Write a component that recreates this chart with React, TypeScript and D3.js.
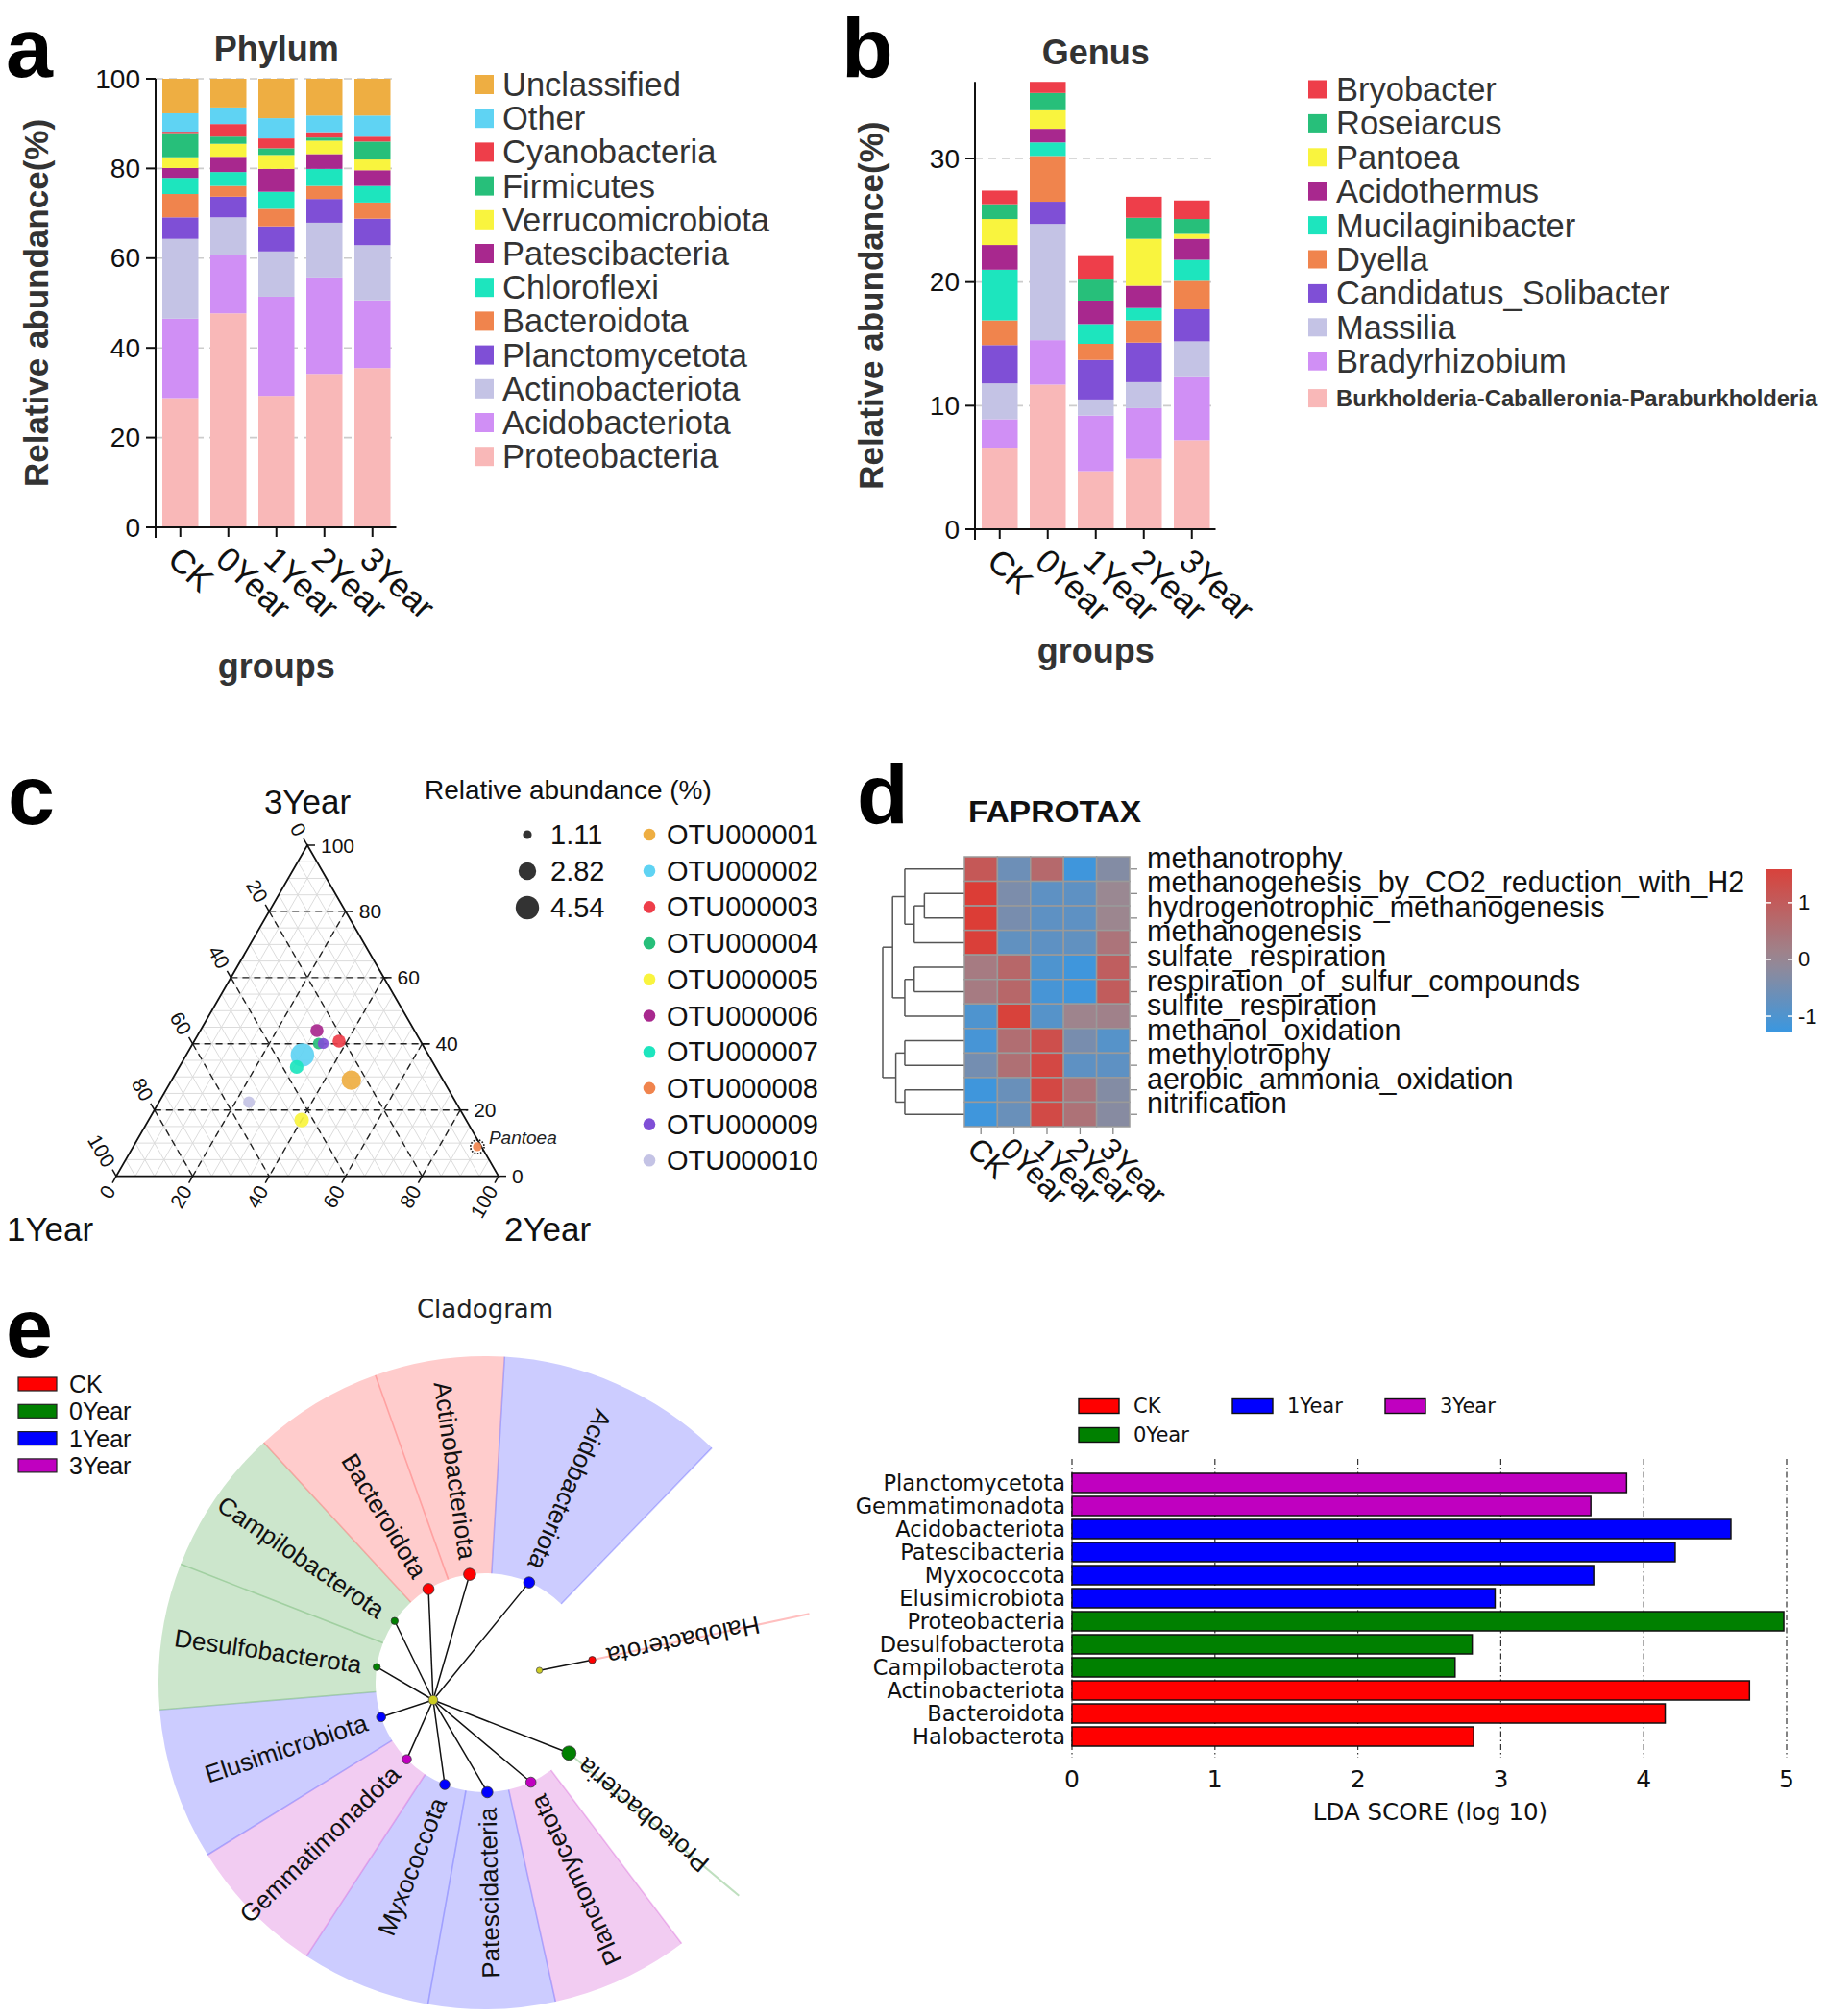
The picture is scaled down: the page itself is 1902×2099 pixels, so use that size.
import React from "react";
import * as d3 from "d3";

const SANS = "'Liberation Sans', Arial, Helvetica, sans-serif";
const DEJAVU = "'DejaVu Sans', Verdana, sans-serif";

const groups = ["CK", "0Year", "1Year", "2Year", "3Year"];

// ---------- panel a : phylum (bottom -> top) ----------
const phylumNames = ["Proteobacteria", "Acidobacteriota", "Actinobacteriota", "Planctomycetota", "Bacteroidota", "Chloroflexi", "Patescibacteria", "Verrucomicrobiota", "Firmicutes", "Cyanobacteria", "Other", "Unclassified"];
const palette = ["#F9B8B8", "#D08FF5", "#C4C3E5", "#7F4FD6", "#F0844D", "#1DE5BE", "#A8288E", "#F9F43E", "#27BF7A", "#EE3E4A", "#5FD3F3", "#EEAE42"];
const phylumCK = [28.8, 17.7, 17.8, 4.8, 5.2, 3.6, 2.2, 2.4, 5.4, 0.3, 4.1, 7.7];
const phylum0Y = [47.7, 13.1, 8.3, 4.6, 2.4, 3.1, 3.4, 2.9, 1.6, 2.8, 3.7, 6.4];
const phylum1Y = [29.3, 22.1, 10.1, 5.6, 3.9, 3.8, 5.1, 3.1, 1.5, 2.2, 4.5, 8.8];
const phylum2Y = [34.2, 21.5, 12.2, 5.3, 2.9, 3.8, 3.3, 3.0, 0.7, 1.2, 3.7, 8.2];
const phylum3Y = [35.5, 15.1, 12.3, 5.9, 3.6, 3.7, 3.5, 2.4, 4.0, 1.1, 4.7, 8.2];
const phylumTicks = [0, 20, 40, 60, 80, 100];

// ---------- panel b : genus (bottom -> top) ----------
const genusNames = ["Burkholderia-Caballeronia-Paraburkholderia", "Bradyrhizobium", "Massilia", "Candidatus_Solibacter", "Dyella", "Mucilaginibacter", "Acidothermus", "Pantoea", "Roseiarcus", "Bryobacter"];
const genusCK = [6.6, 2.3, 2.9, 3.1, 2.0, 4.1, 2.0, 2.1, 1.2, 1.1];
const genus0Y = [11.7, 3.6, 9.4, 1.8, 3.7, 1.1, 1.1, 1.5, 1.4, 0.9];
const genus1Y = [4.7, 4.5, 1.3, 3.2, 1.3, 1.6, 1.9, 0.0, 1.7, 1.9];
const genus2Y = [5.7, 4.1, 2.1, 3.2, 1.8, 1.0, 1.8, 3.8, 1.7, 1.7];
const genus3Y = [7.2, 5.1, 2.9, 2.6, 2.3, 1.7, 1.7, 0.4, 1.2, 1.5];
const genusTicks = [0, 10, 20, 30];

// ---------- panel c : ternary ----------
const otuNames = ["OTU000001", "OTU000002", "OTU000003", "OTU000004", "OTU000005", "OTU000006", "OTU000007", "OTU000008", "OTU000009", "OTU000010"];
const otuColors = ["#EEAE42", "#5FD3F3", "#EE3E4A", "#27BF7A", "#F9F43E", "#A8288E", "#1DE5BE", "#F0844D", "#7F4FD6", "#C4C3E5"];
const otu1Year = [0.24, 0.33, 0.213, 0.27, 0.43, 0.255, 0.363, 0.011, 0.258, 0.541];
const otu2Year = [0.47, 0.304, 0.379, 0.329, 0.40, 0.305, 0.307, 0.90, 0.341, 0.235];
const otu3Year = [0.29, 0.366, 0.408, 0.401, 0.17, 0.44, 0.33, 0.089, 0.401, 0.224];
const otuAbund = [3.3, 4.54, 1.8, 1.5, 2.1, 1.8, 1.9, 1.11, 1.4, 1.5];
const sizeBreaks = [1.11, 2.82, 4.54];
const ternTicks = [0, 20, 40, 60, 80, 100];

// ---------- panel d : FAPROTAX heatmap ----------
const funcNames = ["methanotrophy", "methanogenesis_by_CO2_reduction_with_H2", "hydrogenotrophic_methanogenesis", "methanogenesis", "sulfate_respiration", "respiration_of_sulfur_compounds", "sulfite_respiration", "methanol_oxidation", "methylotrophy", "aerobic_ammonia_oxidation", "nitrification"];
const heatCK = [1.1, 1.7, 1.7, 1.65, 0.3, 0.3, -1.0, -1.1, -0.5, -1.2, -1.2];
const heat0Y = [-0.6, -0.4, -0.45, -0.75, 0.75, 0.75, 1.6, 0.6, 0.55, -0.65, -0.65];
const heat1Y = [0.7, -0.8, -0.8, -0.8, -1.0, -1.1, -0.9, 1.3, 1.45, 1.45, 1.4];
const heat2Y = [-1.2, -0.8, -0.8, -0.75, -1.2, -1.2, 0.1, -0.45, -0.8, 0.45, 0.5];
const heat3Y = [-0.3, 0.0, 0.05, 0.45, 0.95, 1.0, 0.15, -0.9, -0.8, -0.3, -0.25];
const heatTicks = [1, 0, -1];
// hclust-style merges: negative = leaf (row number), positive = earlier merge; third = height
const dendroMerges: [number, number, number][] = [
  [-2, -3, 0.49], [-4, 1, 0.615], [-1, 2, 0.73], [-5, -6, 0.615], [4, -7, 0.73],
  [3, 5, 0.88], [-8, -9, 0.73], [-10, -11, 0.73], [7, 8, 0.84], [6, 9, 1.0],
];

// ---------- panel e : cladogram + LDA ----------
const classNames = ["CK", "0Year", "1Year", "3Year"];
const classColors = ["#FF0000", "#008000", "#0000FF", "#C000C0"];
const cladeNames = ["Planctomycetota", "Patescidacteria", "Myxococcota", "Gemmatimonadota", "Elusimicrobiota", "Desulfobacterota", "Campilobacterota", "Bacteroidota", "Actinobacteriota", "Acidobacteriota"];
const cladeClass = ["3Year", "1Year", "1Year", "3Year", "1Year", "0Year", "0Year", "CK", "CK", "1Year"];
const cladeSpan = [24.5, 22.5, 23, 25, 27, 26, 26, 23, 23, 40.5];
const cladeNode = [5.3, 5.8, 5.3, 4.8, 4.8, 3.7, 3.7, 5.8, 6.3, 5.8];
const extraNames = ["Proteobacteria", "Halobacterota"];
const extraClass = ["0Year", "CK"];
const extraAngle = [40, -12];
const extraNode = [7.4, 3.7];

const ldaNames = ["Planctomycetota", "Gemmatimonadota", "Acidobacteriota", "Patescibacteria", "Myxococcota", "Elusimicrobiota", "Proteobacteria", "Desulfobacterota", "Campilobacterota", "Actinobacteriota", "Bacteroidota", "Halobacterota"];
const ldaClass = ["3Year", "3Year", "1Year", "1Year", "1Year", "1Year", "0Year", "0Year", "0Year", "CK", "CK", "CK"];
const ldaScore = [3.88, 3.63, 4.61, 4.22, 3.65, 2.96, 4.98, 2.80, 2.68, 4.74, 4.15, 2.81];
const ldaTicks = [0, 1, 2, 3, 4, 5];

const colorOf = (c: string) => classColors[classNames.indexOf(c)];

function stackRows(names: string[], values: number[][]) {
  return groups.map((g, gi) => {
    const row: any = { group: g };
    names.forEach((n, ni) => (row[n] = values[gi][ni]));
    return row;
  });
}

function BarPanel(p: any) {
  const { names, colors, values, xRange, y, ticks, grid, yTop, title, titleY, ylabX, groupsY } = p;
  const x = d3.scaleBand<string>().domain(groups).range(xRange).paddingInner(0.25).paddingOuter(0.12);
  const stacked = d3.stack<any>().keys(names)(stackRows(names, values));
  const axisX = xRange[0] - 1;
  const y0 = y(0);
  const midX = (xRange[0] + xRange[1]) / 2;
  return (
    <g fontFamily={SANS}>
      {grid.map((t: number) => (
        <line key={"g" + t} x1={axisX} x2={xRange[1]} y1={y(t)} y2={y(t)} stroke="#cccccc" strokeWidth={1.6} strokeDasharray="8 6" />
      ))}
      {stacked.map((layer: any, li: number) => (
        <g key={names[li]} fill={colors[li]}>
          {layer.map((d: any, gi: number) => (
            <rect key={gi} x={x(groups[gi])} width={x.bandwidth()} y={y(d[1])} height={Math.max(0, y(d[0]) - y(d[1]))} />
          ))}
        </g>
      ))}
      <line x1={axisX} x2={axisX} y1={y(yTop)} y2={y0 + 11} stroke="#111" strokeWidth={2} />
      <line x1={axisX - 10} x2={xRange[1]} y1={y0} y2={y0} stroke="#111" strokeWidth={2} />
      {ticks.map((t: number) => (
        <g key={"t" + t}>
          <line x1={axisX - 10} x2={axisX} y1={y(t)} y2={y(t)} stroke="#111" strokeWidth={2} />
          <text x={axisX - 16} y={y(t)} textAnchor="end" dominantBaseline="central" fontSize={28} fill="#111">{t}</text>
        </g>
      ))}
      {groups.map((g) => {
        const cx = (x(g) as number) + x.bandwidth() / 2;
        return (
          <g key={g}>
            <line x1={cx} x2={cx} y1={y0} y2={y0 + 10} stroke="#111" strokeWidth={2} />
            <text transform={`translate(${cx - 15},${y0 + 36}) rotate(43)`} fontSize={35} fill="#111">{g}</text>
          </g>
        );
      })}
      <text x={midX} y={titleY} textAnchor="middle" dominantBaseline="central" fontSize={36} fontWeight="bold" fill="#333">{title}</text>
      <text transform={`translate(${ylabX},${(y0 + y(yTop)) / 2}) rotate(-90)`} textAnchor="middle" dominantBaseline="central" fontSize={35} fontWeight="bold" fill="#333">Relative abundance(%)</text>
      <text x={midX} y={groupsY} textAnchor="middle" dominantBaseline="central" fontSize={36} fontWeight="bold" fill="#333">groups</text>
    </g>
  );
}

function PanelA() {
  const y = d3.scaleLinear().domain([0, 100]).range([549, 82]);
  const legendNames = [...phylumNames].reverse();
  const legendColors = [...palette].reverse();
  return (
    <g>
      <BarPanel names={phylumNames} colors={palette} values={[phylumCK, phylum0Y, phylum1Y, phylum2Y, phylum3Y]}
        xRange={[163, 412.5]} y={y} ticks={phylumTicks} grid={[20, 40, 60, 80, 100]} yTop={100}
        title="Phylum" titleY={50} ylabX={37} groupsY={693} />
      <g fontFamily={SANS}>
        {legendNames.map((n, i) => (
          <g key={n}>
            <rect x={494} y={88 + i * 35.2 - 10} width={20} height={20} fill={legendColors[i]} />
            <text x={523} y={88 + i * 35.2} dominantBaseline="central" fontSize={34.5} fill="#333">{n}</text>
          </g>
        ))}
      </g>
    </g>
  );
}

function PanelB() {
  const y = d3.scaleLinear().domain([0, 30]).range([551, 165]);
  const legendNames = [...genusNames].reverse();
  const legendColors = palette.slice(0, 10).reverse();
  return (
    <g>
      <BarPanel names={genusNames} colors={palette.slice(0, 10)} values={[genusCK, genus0Y, genus1Y, genus2Y, genus3Y]}
        xRange={[1016, 1265.5]} y={y} ticks={genusTicks} grid={[10, 20, 30]} yTop={36.2}
        title="Genus" titleY={54} ylabX={906} groupsY={677} />
      <g fontFamily={SANS}>
        {legendNames.map((n, i) => {
          const last = i === legendNames.length - 1;
          const cy = 93 + i * 35.4 + (last ? 3 : 0);
          return (
            <g key={n}>
              <rect x={1362} y={cy - 9.5} width={19} height={19} fill={legendColors[i]} />
              <text x={1391} y={cy} dominantBaseline="central" fontSize={last ? 23.8 : 34.5} fontWeight={last ? "bold" : "normal"} fill="#333">{n}</text>
            </g>
          );
        })}
      </g>
    </g>
  );
}

function PanelC() {
  const tx = d3.scaleLinear().domain([0, 1]).range([121, 519]);
  const ty = d3.scaleLinear().domain([0, 1]).range([1224.6, 880]);
  const tern = (a: number, b: number, t: number): [number, number] => [tx(b + t / 2), ty(t)];
  const area = d3.scaleLinear().domain([1.11, 4.54]).range([4.6 * 4.6, 12.2 * 12.2]);
  const rad = (v: number) => Math.sqrt(area(v));
  const minor = d3.range(0.05, 1, 0.05);
  const major = [0.2, 0.4, 0.6, 0.8];
  const lineFam = (v: number) => [
    [tern(1 - v, 0, v), tern(0, 1 - v, v)],
    [tern(v, 0, 1 - v), tern(v, 1 - v, 0)],
    [tern(0, v, 1 - v), tern(1 - v, v, 0)],
  ];
  const L = tern(1, 0, 0), R = tern(0, 1, 0), T = tern(0, 0, 1);
  const dirL: [number, number] = [-0.5, -0.866];
  const dirB: [number, number] = [-0.5, 0.866];
  return (
    <g fontFamily={SANS}>
      {minor.map((v, i) => lineFam(v).map((s, j) => (
        <line key={`m${i}-${j}`} x1={s[0][0]} y1={s[0][1]} x2={s[1][0]} y2={s[1][1]} stroke="#dcdcdc" strokeWidth={1} />
      )))}
      {major.map((v, i) => lineFam(v).map((s, j) => (
        <line key={`M${i}-${j}`} x1={s[0][0]} y1={s[0][1]} x2={s[1][0] + (j === 0 ? 8 : 0)} y2={s[1][1]} stroke="#222" strokeWidth={1.4} strokeDasharray="7 5" />
      )))}
      <path d={`M${L[0]},${L[1]}L${R[0]},${R[1]}L${T[0]},${T[1]}Z`} fill="none" stroke="#111" strokeWidth={1.8} />
      {ternTicks.map((t) => {
        const v = t / 100;
        const eR = tern(0, 1 - v, v);
        const eL = tern(v, 0, 1 - v);
        const eB = tern(1 - v, v, 0);
        return (
          <g key={"tt" + t} fontSize={21} fill="#111">
            <line x1={eR[0]} y1={eR[1]} x2={eR[0] + 8} y2={eR[1]} stroke="#111" strokeWidth={1.5} />
            <text x={eR[0] + 14} y={eR[1]} dominantBaseline="central">{t}</text>
            <line x1={eL[0]} y1={eL[1]} x2={eL[0] + 8 * dirL[0]} y2={eL[1] + 8 * dirL[1]} stroke="#111" strokeWidth={1.5} />
            <text transform={`translate(${eL[0] + 13 * dirL[0]},${eL[1] + 13 * dirL[1]}) rotate(60)`} textAnchor="end" dominantBaseline="central">{t}</text>
            <line x1={eB[0]} y1={eB[1]} x2={eB[0] + 8 * dirB[0]} y2={eB[1] + 8 * dirB[1]} stroke="#111" strokeWidth={1.5} />
            <text transform={`translate(${eB[0] + 13 * dirB[0]},${eB[1] + 13 * dirB[1]}) rotate(-60)`} textAnchor="end" dominantBaseline="central">{t}</text>
          </g>
        );
      })}
      {otuNames.map((n, i) => {
        const [px, py] = tern(otu1Year[i], otu2Year[i], otu3Year[i]);
        const r = rad(otuAbund[i]);
        return (
          <g key={n}>
            <circle cx={px} cy={py} r={r} fill={otuColors[i]} opacity={0.92} />
            {n === "OTU000008" && (
              <>
                <circle cx={px} cy={py} r={r + 2.5} fill="none" stroke="#111" strokeWidth={1.6} strokeDasharray="1.6 1.6" />
                <text x={px + 12} y={py - 9} dominantBaseline="central" fontSize={19} fontStyle="italic" fill="#222">Pantoea</text>
              </>
            )}
          </g>
        );
      })}
      <text x={T[0]} y={834} textAnchor="middle" dominantBaseline="central" fontSize={35} fill="#111">3Year</text>
      <text x={7} y={1279} dominantBaseline="central" fontSize={35} fill="#111">1Year</text>
      <text x={525} y={1279} dominantBaseline="central" fontSize={35} fill="#111">2Year</text>
      <text x={442} y={822} dominantBaseline="central" fontSize={28} fill="#111">Relative abundance (%)</text>
      {sizeBreaks.map((v, i) => (
        <g key={"sb" + v}>
          <circle cx={549} cy={869 + i * 38} r={rad(v)} fill="#333" />
          <text x={573} y={869 + i * 38} dominantBaseline="central" fontSize={29} fill="#111">{v.toFixed(2)}</text>
        </g>
      ))}
      {otuNames.map((n, i) => (
        <g key={"lg" + n}>
          <circle cx={676} cy={869 + i * 37.7} r={6.3} fill={otuColors[i]} />
          <text x={694} y={869 + i * 37.7} dominantBaseline="central" fontSize={29} fill="#111">{n}</text>
        </g>
      ))}
    </g>
  );
}

function PanelD() {
  const hx = d3.scaleBand<string>().domain(groups).range([1004, 1176]);
  const hy = d3.scaleBand<string>().domain(funcNames).range([892, 1173]);
  const heatCols = [heatCK, heat0Y, heat1Y, heat2Y, heat3Y];
  const color = d3.scaleLinear<string>().domain([-1.27, 0, 1.59]).range(["#3A97E0", "#9A8892", "#D8423C"]).interpolate(d3.interpolateRgb);
  const dx = d3.scaleLinear().domain([0, 1]).range([1004, 919]);
  const leafY = (i: number) => (hy(funcNames[i - 1]) as number) + hy.bandwidth() / 2;
  const nodes: { y: number; h: number }[] = [];
  const segs: [number, number, number, number][] = [];
  const pos = (id: number) => (id < 0 ? { y: leafY(-id), h: 0 } : nodes[id - 1]);
  dendroMerges.forEach(([l, r, h]) => {
    const A = pos(l), B = pos(r);
    segs.push([dx(h), A.y, dx(h), B.y]);
    segs.push([dx(A.h), A.y, dx(h), A.y]);
    segs.push([dx(B.h), B.y, dx(h), B.y]);
    nodes.push({ y: (A.y + B.y) / 2, h });
  });
  const cbY = d3.scaleLinear().domain([-1.27, 1.59]).range([1074, 905]);
  const stops = d3.range(0, 1.0001, 0.1).map((t) => {
    const v = 1.59 - t * (1.59 + 1.27);
    return { off: t, c: color(v) };
  });
  return (
    <g fontFamily={SANS}>
      <defs>
        <linearGradient id="cbar" x1="0" y1="0" x2="0" y2="1">
          {stops.map((s, i) => <stop key={i} offset={s.off} stopColor={s.c} />)}
        </linearGradient>
      </defs>
      <text x={1008} y={845} dominantBaseline="central" fontSize={32} fontWeight="bold" fill="#111" textLength={180} lengthAdjust="spacingAndGlyphs">FAPROTAX</text>
      {segs.map((s, i) => <line key={"d" + i} x1={s[0]} y1={s[1]} x2={s[2]} y2={s[3]} stroke="#555" strokeWidth={1.5} />)}
      {funcNames.map((f, ri) => groups.map((g, ci) => (
        <rect key={f + g} x={hx(g)} y={hy(f)} width={hx.bandwidth()} height={hy.bandwidth()} fill={color(heatCols[ci][ri])} stroke="#9a9a9a" strokeWidth={1.5} />
      )))}
      {funcNames.map((f) => {
        const cy = (hy(f) as number) + hy.bandwidth() / 2;
        return (
          <g key={"rl" + f}>
            <line x1={1177} x2={1184} y1={cy} y2={cy} stroke="#888" strokeWidth={1.3} />
            <text x={1194} y={cy - 1} fontSize={30.5} fill="#111">{f}</text>
          </g>
        );
      })}
      {groups.map((g) => {
        const cx = (hx(g) as number) + hx.bandwidth() / 2;
        return (
          <g key={"cl" + g}>
            <line x1={cx} x2={cx} y1={1174} y2={1181} stroke="#888" strokeWidth={1.3} />
            <text transform={`translate(${cx - 16},${1198}) rotate(45)`} fontSize={32} fill="#111">{g}</text>
          </g>
        );
      })}
      <rect x={1839} y={905} width={27} height={169} fill="url(#cbar)" />
      {heatTicks.map((t) => (
        <g key={"cb" + t}>
          <line x1={1839} x2={1844} y1={cbY(t)} y2={cbY(t)} stroke="#fff" strokeWidth={1.5} />
          <line x1={1861} x2={1866} y1={cbY(t)} y2={cbY(t)} stroke="#fff" strokeWidth={1.5} />
          <text x={1872} y={cbY(t)} dominantBaseline="central" fontSize={22} fill="#111">{t}</text>
        </g>
      ))}
    </g>
  );
}

function PanelE() {
  const C: [number, number] = [505, 1752];
  const rIn = 114, rOut = 340;
  const rad = (deg: number) => (deg * Math.PI) / 180;
  const polar = (deg: number, r: number): [number, number] => [C[0] + r * Math.cos(rad(deg)), C[1] + r * Math.sin(rad(deg))];
  const ends = Array.from(d3.cumsum(cladeSpan));
  const ang = d3.scaleLinear().domain([0, d3.sum(cladeSpan)]).range([53, 314]);
  const sectors = cladeNames.map((n, i) => {
    const s = ang(ends[i] - cladeSpan[i]);
    const e = ang(ends[i]);
    return { name: n, cls: cladeClass[i], s, e, mid: (s + e) / 2, node: cladeNode[i] };
  });
  const arc = d3.arc<any>();
  const root = polar(161.6, 57);
  const haloParent = polar(extraAngle[1] - 0.8, 58);
  const leaves = [
    ...sectors.map((s) => ({ name: s.name, cls: s.cls, a: s.mid, node: s.node })),
    ...extraNames.map((n, i) => ({ name: n, cls: extraClass[i], a: extraAngle[i], node: extraNode[i] })),
  ];
  const xL = d3.scaleLinear().domain([0, 5]).range([1116, 1860]);
  const yL = d3.scaleBand<string>().domain(ldaNames).range([1532, 1820]).paddingInner(0.167).paddingOuter(0.083);
  const ldaLegend = [
    { c: "CK", x: 1123, y: 1464 }, { c: "1Year", x: 1283, y: 1464 }, { c: "3Year", x: 1442, y: 1464 }, { c: "0Year", x: 1123, y: 1494 },
  ];
  return (
    <g>
      <g fontFamily={SANS}>
        {classNames.map((c, i) => (
          <g key={"el" + c}>
            <rect x={19} y={1441 + i * 28.3 - 7} width={40} height={14} fill={classColors[i]} stroke="#222" strokeWidth={1.2} />
            <text x={72} y={1441 + i * 28.3} dominantBaseline="central" fontSize={25} fill="#111">{c}</text>
          </g>
        ))}
      </g>
      <text x={505} y={1363} textAnchor="middle" dominantBaseline="central" fontFamily={DEJAVU} fontSize={26} fill="#222">Cladogram</text>
      <g transform={`translate(${C[0]},${C[1]})`}>
        {sectors.map((s) => (
          <path key={"sec" + s.name} d={arc({ innerRadius: rIn, outerRadius: rOut, startAngle: rad(s.s + 90), endAngle: rad(s.e + 90) }) as string}
            fill={colorOf(s.cls)} fillOpacity={0.2} />
        ))}
      </g>
      {sectors.map((s, i) => {
        const p0 = polar(s.s, rIn), p1 = polar(s.s, rOut);
        const q0 = polar(s.e, rIn), q1 = polar(s.e, rOut);
        return (
          <g key={"bd" + s.name} stroke={colorOf(s.cls)} strokeOpacity={0.22} strokeWidth={1.6}>
            <line x1={p0[0]} y1={p0[1]} x2={p1[0]} y2={p1[1]} />
            {i === sectors.length - 1 && <line x1={q0[0]} y1={q0[1]} x2={q1[0]} y2={q1[1]} />}
          </g>
        );
      })}
      {leaves.filter((l) => extraNames.includes(l.name)).map((l) => {
        const a = polar(l.a, rIn), b = polar(l.a, rOut + 5);
        return <line key={"ex" + l.name} x1={a[0]} y1={a[1]} x2={b[0]} y2={b[1]} stroke={colorOf(l.cls)} strokeOpacity={0.25} strokeWidth={2} />;
      })}
      {leaves.map((l) => {
        const p = polar(l.a, rIn);
        const from = l.name === "Halobacterota" ? haloParent : root;
        return <line key={"br" + l.name} x1={from[0]} y1={from[1]} x2={p[0]} y2={p[1]} stroke="#111" strokeWidth={1.5} />;
      })}
      <circle cx={root[0]} cy={root[1]} r={4.8} fill="#CCCC22" stroke="#555" strokeWidth={0.8} />
      <circle cx={haloParent[0]} cy={haloParent[1]} r={3.2} fill="#CCCC22" stroke="#555" strokeWidth={0.8} />
      {leaves.map((l) => {
        const p = polar(l.a, rIn);
        const t = polar(l.a, rIn + 16);
        return (
          <g key={"lf" + l.name}>
            <circle cx={p[0]} cy={p[1]} r={l.node} fill={colorOf(l.cls)} stroke="#333" strokeWidth={0.8} />
            <text transform={`translate(${t[0]},${t[1]}) rotate(${l.a + 180})`} textAnchor="end" dominantBaseline="central" fontFamily={SANS} fontSize={26} fill="#111">{l.name}</text>
          </g>
        );
      })}
      <g fontFamily={DEJAVU}>
        {ldaLegend.map((e) => (
          <g key={"ll" + e.c}>
            <rect x={e.x} y={e.y - 7.5} width={42} height={15} fill={colorOf(e.c)} stroke="#111" strokeWidth={1.4} />
            <text x={e.x + 57} y={e.y} dominantBaseline="central" fontSize={21} fill="#111">{e.c}</text>
          </g>
        ))}
        {ldaTicks.map((t) => (
          <g key={"lt" + t}>
            <line x1={xL(t)} x2={xL(t)} y1={1519} y2={1830} stroke="#333" strokeWidth={1.2} strokeDasharray="6 3 1.5 3" />
            <text x={xL(t)} y={1852} textAnchor="middle" dominantBaseline="central" fontSize={25} fill="#111">{t}</text>
          </g>
        ))}
        {ldaNames.map((n, i) => {
          const yy = yL(n) as number;
          return (
            <g key={"lb" + n}>
              <rect x={xL(0)} y={yy} width={xL(ldaScore[i]) - xL(0)} height={yL.bandwidth()} fill={colorOf(ldaClass[i])} stroke="#111" strokeWidth={1.5} />
              <text x={1109} y={yy + yL.bandwidth() / 2} textAnchor="end" dominantBaseline="central" fontSize={22.5} fill="#111">{n}</text>
            </g>
          );
        })}
        <text x={1489} y={1886} textAnchor="middle" dominantBaseline="central" fontSize={24.5} fill="#111">LDA SCORE (log 10)</text>
      </g>
    </g>
  );
}

export default function App() {
  return (
    <svg width={1902} height={2099} viewBox="0 0 1902 2099" style={{ position: "absolute", left: 0, top: 0, display: "block" }}>
      <rect x={0} y={0} width={1902} height={2099} fill="#fff" />
      <g fontFamily={SANS} fontWeight="bold" fontSize={88} fill="#000">
        <text x={6} y={80}>a</text>
        <text x={876} y={80}>b</text>
        <text x={8} y={858}>c</text>
        <text x={892} y={857}>d</text>
        <text x={6} y={1413}>e</text>
      </g>
      <PanelA />
      <PanelB />
      <PanelC />
      <PanelD />
      <PanelE />
    </svg>
  );
}
